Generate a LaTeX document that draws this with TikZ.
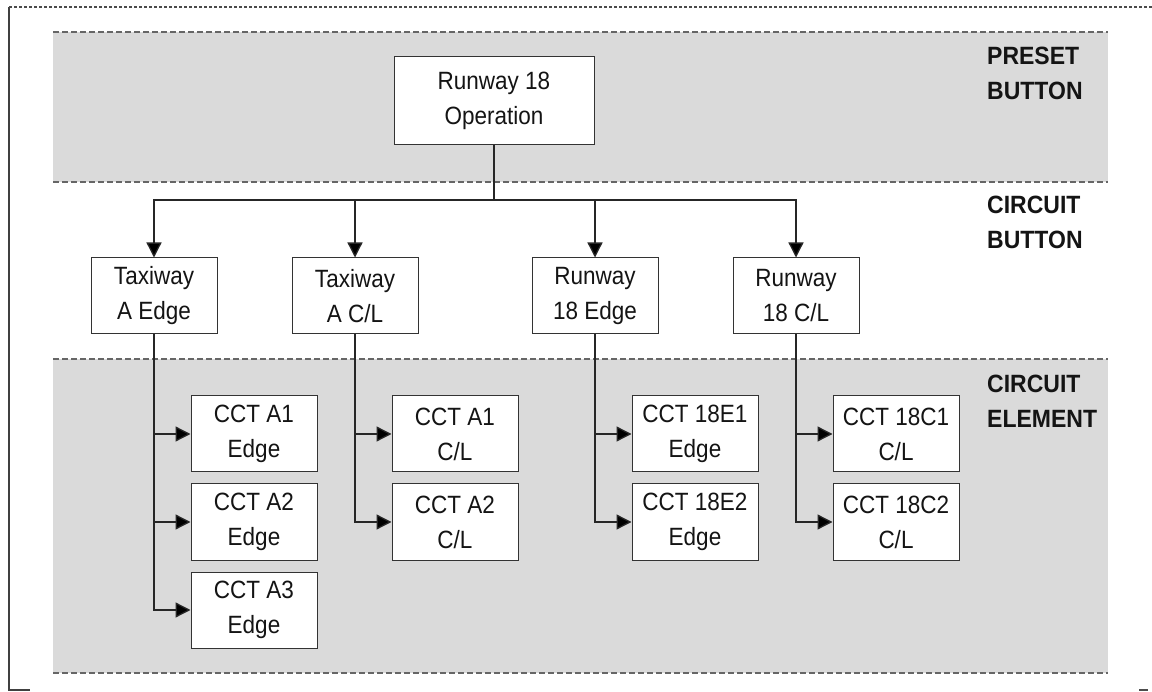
\documentclass[tikz,border=0pt]{standalone}
\usepackage{fontspec}
\setmainfont{Liberation Sans}
\newfontfamily\boxfont{Liberation Sans}[FakeStretch=0.9]
\newfontfamily\lblfont{Liberation Sans}[FakeStretch=0.92]
\usetikzlibrary{arrows.meta}
\definecolor{bandfill}{RGB}{218,218,218}
\definecolor{inkc}{RGB}{20,20,20}
\begin{document}
\begin{tikzpicture}[x=1pt,y=-1pt,
  box/.style={draw=black!80, line width=1pt, fill=white, align=center,
    minimum width=126pt, minimum height=76pt, inner sep=2pt, text=inkc,
    font=\boxfont\fontsize{25}{35}\selectfont},
  band/.style={fill=bandfill, draw=none},
  bandline/.style={draw=black!60, line width=2pt, dash pattern=on 6pt off 3pt},
  conn/.style={draw=black!85, line width=1.3pt},
  arr/.style={conn, -{Triangle[width=15pt,length=15pt,fill=black]}},
  lbl/.style={anchor=north west, inner sep=0pt, align=left, text=inkc,
    font=\lblfont\fontsize{25}{35}\selectfont\bfseries}]
\useasboundingbox (0,0) rectangle (1152,692);
% outer frame
\draw[black!75, line width=2pt] (9,7) -- (9,690) -- (30,690);
\draw[black!70, line width=2pt, dash pattern=on 3pt off 2pt] (9,7) -- (1152,7);
\draw[black!70, line width=2pt] (1139,690) -- (1148,690);
% bands
\fill[band] (53,32) rectangle (1108,182);
\fill[band] (53,359) rectangle (1108,673);
\draw[bandline] (53,32) -- (1108,32);
\draw[bandline] (53,182) -- (1108,182);
\draw[bandline] (53,359) -- (1108,359);
\draw[bandline] (53,673) -- (1108,673);
% labels
\node[lbl] (l1) at (987,47) {PRESET\\BUTTON};
\node[lbl] (l2) at (987,196) {CIRCUIT\\BUTTON};
\node[lbl] (l3) at (987,375) {CIRCUIT\\ELEMENT};
% preset
\node[box, minimum width=200pt, minimum height=88pt] (op) at (494,101) {Runway 18\\Operation};
% circuit buttons
\node[box] (tae) at (154,296) {Taxiway\\A Edge};
\node[box] (tac) at (355,296) {Taxiway\\A C/L};
\node[box] (re)  at (595,296) {Runway\\18 Edge};
\node[box] (rc)  at (796,296) {Runway\\18 C/L};
% circuit elements
\node[box] (a1e) at (254,434) {CCT A1\\Edge};
\node[box] (a2e) at (254,522) {CCT A2\\Edge};
\node[box] (a3e) at (254,610) {CCT A3\\Edge};
\node[box] (a1c) at (455,434) {CCT A1\\C/L};
\node[box] (a2c) at (455,522) {CCT A2\\C/L};
\node[box] (e1)  at (695,434) {CCT 18E1\\Edge};
\node[box] (e2)  at (695,522) {CCT 18E2\\Edge};
\node[box] (c1)  at (896,434) {CCT 18C1\\C/L};
\node[box] (c2)  at (896,522) {CCT 18C2\\C/L};
% connectors
\coordinate (bus) at (494,200);
\draw[conn] (op.south) -- (bus);
\foreach \t in {tae,tac,re,rc} \draw[arr] (bus) -| (\t.north);
\foreach \s/\t in {tae/a1e,tae/a2e,tae/a3e,tac/a1c,tac/a2c,re/e1,re/e2,rc/c1,rc/c2}
  \draw[arr] (\s.south) |- (\t.west);
\end{tikzpicture}
\end{document}
